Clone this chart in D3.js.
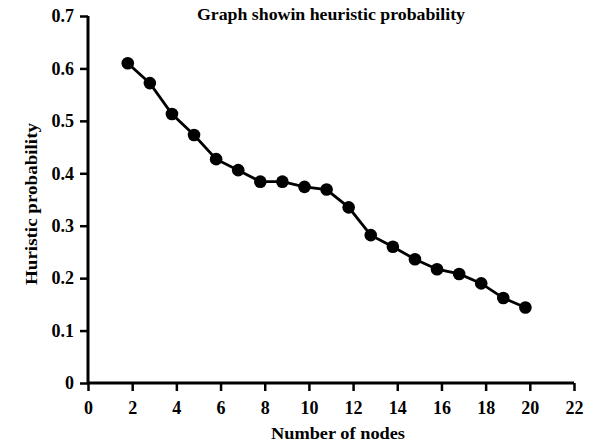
<!DOCTYPE html>
<html><head><meta charset="utf-8">
<script src="https://cdn.jsdelivr.net/npm/d3@7"></script>
<style>body{margin:0;background:#fff}svg{display:block}</style>
</head><body><svg id="c" width="595" height="444"></svg>
<script>
const nodes = [1.8,2.8,3.8,4.8,5.8,6.8,7.8,8.8,9.8,10.8,11.8,12.8,13.8,14.8,15.8,16.8,17.8,18.8,19.8];
const probability = [0.610,0.572,0.513,0.473,0.427,0.406,0.384,0.384,0.374,0.369,0.335,0.282,0.260,0.236,0.217,0.208,0.190,0.162,0.144];
const xTicks = [0,2,4,6,8,10,12,14,16,18,20,22];
const yTicks = [0,0.1,0.2,0.3,0.4,0.5,0.6,0.7];
const title = "Graph showin heuristic probability";
const xLabel = "Number of nodes";
const yLabel = "Huristic probability";

const svg = d3.select("#c");
const font = "'Liberation Serif','Times New Roman',serif";
const x = d3.scaleLinear().domain([0,22]).range([88,574]);
const y = d3.scaleLinear().domain([0,0.7]).range([383,16]);

const xa = svg.append("g").attr("transform","translate(0,383)")
  .call(d3.axisBottom(x).tickValues(xTicks).tickFormat(d3.format("d")).tickSize(8).tickPadding(10));
const ya = svg.append("g").attr("transform","translate(88,0)")
  .call(d3.axisLeft(y).tickValues(yTicks).tickFormat(d=>d===0?"0":d3.format(".1f")(d)).tickSize(8).tickPadding(6));
[xa,ya].forEach(a=>{
  a.select(".domain").attr("stroke","#000").attr("stroke-width",3);
  a.selectAll(".tick line").attr("stroke","#000").attr("stroke-width",2.5);
  a.selectAll(".tick text").attr("font-family",font).attr("font-size",18).attr("font-weight","bold").attr("fill","#000");
});
xa.select(".domain").attr("d","M88,0H574");
ya.select(".domain").attr("d","M0,383V16");

const line = d3.line().x((d,i)=>x(nodes[i])).y(d=>y(d));
svg.append("path").datum(probability).attr("d",line).attr("fill","none").attr("stroke","#000").attr("stroke-width",2.8);
svg.selectAll("circle.p").data(probability).join("circle").attr("class","p")
  .attr("cx",(d,i)=>x(nodes[i])).attr("cy",d=>y(d)).attr("r",6.3).attr("fill","#000");

svg.append("text").attr("x",331).attr("y",20).attr("text-anchor","middle")
  .attr("font-family",font).attr("font-size",16).attr("font-weight","bold")
  .attr("textLength",268).attr("lengthAdjust","spacingAndGlyphs").text(title);
svg.append("text").attr("x",338).attr("y",439).attr("text-anchor","middle")
  .attr("font-family",font).attr("font-size",17).attr("font-weight","bold")
  .attr("textLength",134).attr("lengthAdjust","spacingAndGlyphs").text(xLabel);
svg.append("text").attr("transform","translate(37,204) rotate(-90)").attr("text-anchor","middle")
  .attr("font-family",font).attr("font-size",17).attr("font-weight","bold")
  .attr("textLength",162).attr("lengthAdjust","spacingAndGlyphs").text(yLabel);
</script></body></html>
